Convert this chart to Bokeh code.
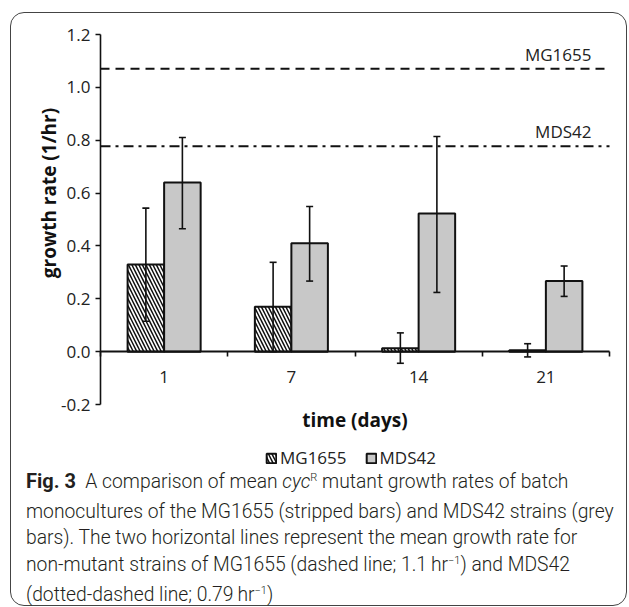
import numpy as np
from bokeh.plotting import figure
from bokeh.models import (ColumnDataSource, Whisker, TeeHead, Label, LinearAxis,
                          FixedTicker, Legend, LegendItem, Range1d, Div, NumeralTickFormatter,
                          CustomJSTickFormatter)
from bokeh.layouts import column
from bokeh.embed import file_html
from bokeh.resources import INLINE

# ---------------- data ----------------
days = ["1", "7", "14", "21"]
mg1655 = [0.33, 0.17, 0.013, 0.005]
mg1655_upper = [0.543, 0.338, 0.071, 0.030]
mg1655_lower = [0.115, 0.0, -0.044, -0.020]
mds42 = [0.64, 0.41, 0.523, 0.267]
mds42_upper = [0.81, 0.549, 0.814, 0.324]
mds42_lower = [0.465, 0.267, 0.224, 0.209]
ref_mg1655 = 1.07
ref_mds42 = 0.777
y_min, y_max = -0.2, 1.2
y_ticks = [-0.2, 0.0, 0.2, 0.4, 0.6, 0.8, 1.0, 1.2]

caption_lines = [
    '<b style="font-weight:700; font-size:20px">Fig.&nbsp;3</b>&nbsp;&nbsp;A comparison of mean <i>cyc</i><sup>R</sup> mutant growth rates of batch',
    'monocultures of the MG1655 (stripped bars) and MDS42 strains (grey',
    'bars). The two horizontal lines represent the mean growth rate for',
    'non-mutant strains of MG1655 (dashed line; 1.1&thinsp;hr<sup>&minus;1</sup>) and MDS42',
    '(dotted-dashed line; 0.79&thinsp;hr<sup>&minus;1</sup>)',
]

# ---------------- layout (pixels) ----------------
FONT = "Open Sans"
FIG_W, FIG_H = 617, 456
PLOT_L, PLOT_R = 90, 599      # where x = 0 and x = n fall on the canvas
PLOT_T, PLOT_B = 22, 392      # where y = y_max and y = y_min fall on the canvas

n = len(days)
centers = np.arange(n) + 0.5
bar_w = 0.287

px_x = (PLOT_R - PLOT_L) / n
px_y = (PLOT_B - PLOT_T) / (y_max - y_min)
x_range = Range1d(-PLOT_L / px_x, n + (FIG_W - PLOT_R) / px_x)
y_range = Range1d(y_min - (FIG_H - PLOT_B) / px_y, y_max + PLOT_T / px_y)

src_mg = ColumnDataSource(dict(x=centers - bar_w / 2, top=mg1655,
                               upper=mg1655_upper, lower=mg1655_lower))
src_mds = ColumnDataSource(dict(x=centers + bar_w / 2, top=mds42,
                                upper=mds42_upper, lower=mds42_lower))

p = figure(width=FIG_W, height=FIG_H, x_range=x_range, y_range=y_range,
           output_backend="svg", toolbar_location=None, min_border=0,
           x_axis_location=None, y_axis_location=None)
p.xgrid.visible = False
p.ygrid.visible = False
p.outline_line_color = None
p.background_fill_alpha = 0
p.border_fill_alpha = 0

AX = "#111111"
# y axis at x = 0
ya = LinearAxis(ticker=FixedTicker(ticks=y_ticks), fixed_location=0, bounds=(y_min, y_max),
                formatter=NumeralTickFormatter(format="0.0"),
                major_tick_out=5, major_tick_in=0, minor_tick_line_color=None,
                axis_line_width=1.6, major_tick_line_width=1.6,
                axis_line_color=AX, major_tick_line_color=AX,
                major_label_text_font=FONT, major_label_text_font_size="17px",
                major_label_text_color="#222222", major_label_standoff=5)
p.add_layout(ya, "left")

# x axis at y = 0: boundary ticks
xa1 = LinearAxis(ticker=FixedTicker(ticks=list(range(n + 1))), fixed_location=0, bounds=(0, n),
                 formatter=CustomJSTickFormatter(code="return ''"),
                 major_tick_out=5, major_tick_in=0, minor_tick_line_color=None,
                 axis_line_width=1.8, major_tick_line_width=1.6,
                 axis_line_color=AX, major_tick_line_color=AX)
p.add_layout(xa1, "below")

# x axis at y = 0: category labels + title
xa2 = LinearAxis(ticker=FixedTicker(ticks=centers.tolist()), fixed_location=0, bounds=(0, n),
                 major_label_overrides={float(c): d for c, d in zip(centers, days)},
                 axis_line_color=None, major_tick_line_color=None, minor_tick_line_color=None,
                 major_tick_out=0, major_tick_in=0,
                 major_label_text_font=FONT, major_label_text_font_size="17px",
                 major_label_text_color="#222222", major_label_standoff=19,
                 axis_label="time (days)", axis_label_text_font=FONT,
                 axis_label_text_font_size="19px", axis_label_text_font_style="bold",
                 axis_label_text_color="#111111", axis_label_standoff=21)
p.add_layout(xa2, "below")

# bars
r_mg = p.vbar(x="x", top="top", bottom=0, width=bar_w, source=src_mg,
              fill_color="white", line_color=AX, line_width=2,
              hatch_pattern="\\", hatch_color=AX, hatch_scale=7, hatch_weight=1.5)
r_mds = p.vbar(x="x", top="top", bottom=0, width=bar_w, source=src_mds,
               fill_color="#c8c8c8", line_color=AX, line_width=2)

for src in (src_mg, src_mds):
    w = Whisker(source=src, base="x", upper="upper", lower="lower",
                line_width=1.6, line_color=AX, level="annotation",
                upper_head=TeeHead(size=7, line_width=1.6, line_color=AX),
                lower_head=TeeHead(size=7, line_width=1.6, line_color=AX))
    p.add_layout(w)

# reference lines across the plot area
p.segment(x0=[0], x1=[n], y0=[ref_mg1655], y1=[ref_mg1655], line_color=AX,
          line_width=2, line_dash="9 6")
p.segment(x0=[0], x1=[n], y0=[ref_mds42], y1=[ref_mds42], line_color=AX,
          line_width=2, line_dash="10 5 3 5")
p.add_layout(Label(x=n, y=ref_mg1655, x_offset=-18, y_offset=14, text="MG1655",
                   text_align="right", text_baseline="alphabetic", text_font=FONT,
                   text_font_size="17px", text_color="#222222"))
p.add_layout(Label(x=n, y=ref_mds42, x_offset=-18, y_offset=15, text="MDS42",
                   text_align="right", text_baseline="alphabetic", text_font=FONT,
                   text_font_size="17px", text_color="#222222"))

# y axis title
p.add_layout(Label(x=0, y=0.6, x_offset=-52, angle=90, angle_units="deg",
                   text="growth rate (1/hr)", text_align="center", text_baseline="middle",
                   text_font=FONT, text_font_size="19px", text_font_style="bold",
                   text_color="#111111"))

# legend
legend = Legend(items=[LegendItem(label="MG1655", renderers=[r_mg]),
                       LegendItem(label="MDS42", renderers=[r_mds])],
                orientation="horizontal", location=(255, -1), padding=0, margin=0,
                spacing=18, glyph_width=12, glyph_height=12, label_standoff=3,
                border_line_color=None, background_fill_alpha=0,
                label_text_font=FONT, label_text_font_size="17px",
                label_text_color="#222222")
p.add_layout(legend)

sup = '<sup style="font-size:11px; vertical-align:baseline; position:relative; top:-0.62em">'
html_lines = [l.replace("<sup>", sup) for l in caption_lines]
cap_html = ('<div style="font-family: Roboto, sans-serif; font-size:19.3px; font-weight:300;'
            ' line-height:26.7px; color:#231f20; padding-left:16px; white-space:nowrap;">'
            + "<br>".join(html_lines) + "</div>")
cap = Div(text=cap_html, width=FIG_W, height=138, margin=0, styles={"overflow": "hidden"})

layout = column(p, cap, margin=(12, 0, 0, 10),
                styles={"outline": "1.5px solid #444444", "outline-offset": "-1.5px",
                        "border-radius": "14px"})

open("out.html", "w").write(file_html(layout, INLINE))
